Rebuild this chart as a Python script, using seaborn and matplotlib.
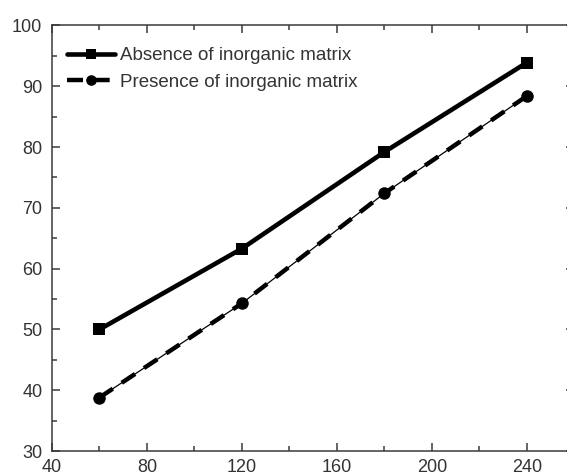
import matplotlib
matplotlib.use("Agg")
import matplotlib.pyplot as plt
import seaborn as sns
import pandas as pd
from matplotlib.ticker import MultipleLocator

time = [60, 120, 180, 240]
absence = [50.0, 63.3, 79.2, 93.9]
presence = [38.8, 54.3, 72.4, 88.4]
labels = ["Absence of inorganic matrix", "Presence of inorganic matrix"]
x_ticks = [40, 80, 120, 160, 200, 240]
y_ticks = [30, 40, 50, 60, 70, 80, 90, 100]

sns.set_style("ticks")
plt.rcParams["font.family"] = ["Liberation Sans", "DejaVu Sans"]

txt = "#333333"
fig = plt.figure(figsize=(5.67, 4.75), dpi=100)
ax = fig.add_axes([0.0917, 0.0505, 0.9215, 0.896])

df_a = pd.DataFrame({"x": time, "y": absence})
df_p = pd.DataFrame({"x": time, "y": presence})

# thin solid line under the dashed series
sns.lineplot(data=df_p, x="x", y="y", ax=ax, color="black", lw=0.9, legend=False)
sns.lineplot(data=df_a, x="x", y="y", ax=ax, color="black", lw=3.3,
             marker="s", markersize=9, markeredgewidth=0, legend=False)
line_a = ax.lines[-1]
sns.lineplot(data=df_p, x="x", y="y", ax=ax, color="black", lw=3.2,
             marker="o", markersize=9, markeredgewidth=0, legend=False)
line_p = ax.lines[-1]
line_p.set_dashes((3.6, 2.4))

ax.set_xlim(40, 260)
ax.set_ylim(30, 100)
ax.set_xticks(x_ticks)
ax.set_yticks(y_ticks)
ax.xaxis.set_minor_locator(MultipleLocator(20))
ax.yaxis.set_minor_locator(MultipleLocator(5))
ax.set_xlabel("")
ax.set_ylabel("")

for s in ax.spines.values():
    s.set_visible(True)
    s.set_linewidth(1.1)
    s.set_color("#3a3a3a")
ax.tick_params(which="both", direction="in", top=True, right=True,
               color="#3a3a3a", width=1.1, labelsize=13, labelcolor=txt)
ax.tick_params(axis="x", which="both", pad=5.5)
ax.tick_params(axis="y", which="both", pad=7)
ax.tick_params(which="major", length=6)
ax.tick_params(which="minor", length=3.5)

leg = ax.legend(handles=[line_a, line_p], labels=labels, loc="upper left",
                bbox_to_anchor=(0.0287, 0.949), frameon=False, fontsize=13.5,
                handlelength=2.56, handletextpad=0.27, labelspacing=0.49,
                borderpad=0, borderaxespad=0, numpoints=1, markerscale=0.85)
for t in leg.get_texts():
    t.set_color(txt)

fig.savefig("out.png", dpi=100)
